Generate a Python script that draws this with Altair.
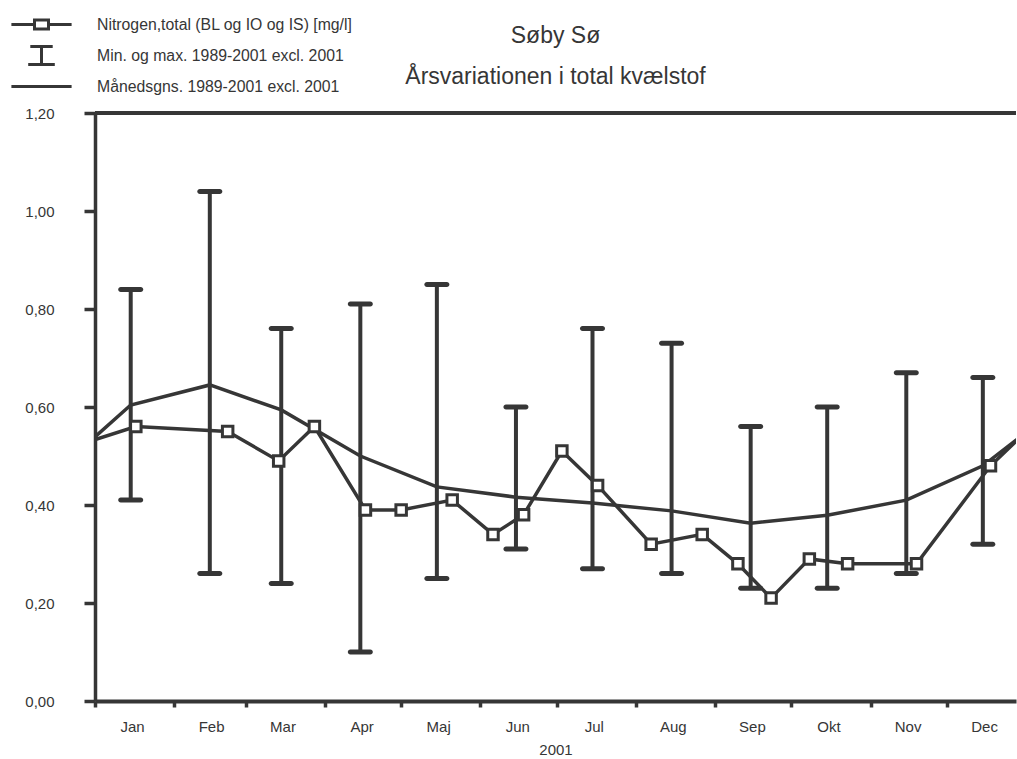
import altair as alt
import pandas as pd

INK = "#363636"
FONT = "Liberation Sans"

# Month labels on the time axis (Danish)
month_labels = ["Jan", "Feb", "Mar", "Apr", "Maj", "Jun",
                "Jul", "Aug", "Sep", "Okt", "Nov", "Dec"]

# Historic statistics 1989-2001 (excl. 2001), one value per month (mid-month)
month_mid = ["2001-01-15", "2001-02-15", "2001-03-15", "2001-04-15",
             "2001-05-15", "2001-06-15", "2001-07-15", "2001-08-15",
             "2001-09-15", "2001-10-15", "2001-11-15", "2001-12-15"]
hist_min = [0.41, 0.26, 0.24, 0.10, 0.25, 0.31, 0.27, 0.26, 0.23, 0.23, 0.26, 0.32]
hist_max = [0.84, 1.04, 0.76, 0.81, 0.85, 0.60, 0.76, 0.73, 0.56, 0.60, 0.67, 0.66]
hist_mean = [0.604, 0.645, 0.594, 0.500, 0.437, 0.416, 0.404, 0.388,
             0.363, 0.379, 0.410, 0.480]
# neighbouring months outside the year, so the curve runs to both edges
mean_edge_dates = ["2000-12-15", "2002-01-15"]
mean_edge_vals = [0.46, 0.604]

# Total nitrogen samples 2001 [mg/l]
sample_dates = ["2001-01-17", "2001-02-22", "2001-03-14", "2001-03-28",
                "2001-04-17", "2001-05-01", "2001-05-21", "2001-06-06",
                "2001-06-18", "2001-07-03", "2001-07-17", "2001-08-07",
                "2001-08-27", "2001-09-10", "2001-09-23", "2001-10-08",
                "2001-10-23", "2001-11-19", "2001-12-18"]
sample_vals = [0.56, 0.55, 0.49, 0.56, 0.39, 0.39, 0.41, 0.34, 0.38, 0.51,
               0.44, 0.32, 0.34, 0.28, 0.21, 0.29, 0.28, 0.28, 0.48]
sample_edge_dates = ["2000-12-18", "2002-01-17"]
sample_edge_vals = [0.51, 0.63]

y_ticks = [0.0, 0.2, 0.4, 0.6, 0.8, 1.0, 1.2]

legend_labels = ["Nitrogen,total (BL og IO og IS) [mg/l]",
                 "Min. og max. 1989-2001 excl. 2001",
                 "Månedsgns. 1989-2001 excl. 2001"]
# key symbols in unit space; the leading moves give every entry the same height
legend_shapes = [
    "M0,-0.66M0,0.66M-2.15,0H-0.5M0.5,0H2.15M-0.5,-0.33H0.5V0.33H-0.5Z",
    "M0,-0.66M0,0.66M-0.8,-0.64H0.8M0,-0.64V0.64M-0.95,0.64H0.95",
    "M0,-0.66M0,0.66M-2.15,0H2.15",
]

# ---- tables -------------------------------------------------------------
hist = pd.DataFrame({"date": month_mid, "lo": hist_min, "hi": hist_max})
caps = pd.DataFrame({"date": month_mid * 2, "value": hist_min + hist_max})
mean = pd.DataFrame({
    "date": [mean_edge_dates[0]] + month_mid + [mean_edge_dates[1]],
    "value": [mean_edge_vals[0]] + hist_mean + [mean_edge_vals[1]],
})
samples = pd.DataFrame({"date": sample_dates, "value": sample_vals})
sample_line = pd.DataFrame({
    "date": [sample_edge_dates[0]] + sample_dates + [sample_edge_dates[1]],
    "value": [sample_edge_vals[0]] + sample_vals + [sample_edge_vals[1]],
})
legend_df = pd.DataFrame({"serie": legend_labels})

# ---- scales and axes ----------------------------------------------------
month_starts = [alt.DateTime(year=2001, month=m, date=1, utc=True) for m in range(1, 13)]
names_js = "[" + ",".join("'%s'" % m for m in month_labels) + "]"

x_scale = alt.Scale(type="utc", domain=[
    alt.DateTime(year=2001, month=1, date=1, utc=True),
    alt.DateTime(year=2001, month=12, date=28, utc=True),
])
x_axis = alt.Axis(
    values=month_starts,
    labelExpr=names_js + "[utcmonth(datum.value)]",
    labelOffset=37, labelOverlap=False, labelFlush=False,
    labelFont=FONT, labelFontSize=15, labelColor=INK, labelPadding=12,
    tickSize=6, tickWidth=3.5, tickColor=INK,
    domainColor=INK, domainWidth=4, grid=False,
    title="2001", titleFont=FONT, titleFontSize=15, titleFontWeight="normal",
    titleColor=INK, titlePadding=8,
)
y_scale = alt.Scale(domain=[0, 1.2], nice=False, zero=True)
y_axis = alt.Axis(
    values=y_ticks,
    labelExpr="replace(format(datum.value, '.2f'), '.', ',')",
    labelFont=FONT, labelFontSize=15, labelColor=INK, labelPadding=30,
    tickSize=11, tickWidth=3.5, tickColor=INK,
    domainColor=INK, domainWidth=3.5, grid=False, title=None,
)

X = alt.X("date:T", scale=x_scale, axis=x_axis)
Y = alt.Y("value:Q", scale=y_scale, axis=y_axis)

# ---- layers -------------------------------------------------------------
bars = alt.Chart(hist).mark_rule(color=INK, strokeWidth=4).encode(
    x=alt.X("date:T"), y=alt.Y("lo:Q"), y2="hi:Q")

bar_caps = alt.Chart(caps).mark_tick(
    orient="horizontal", color=INK, size=25, thickness=5, cornerRadius=2.5,
    opacity=1,
).encode(x=alt.X("date:T"), y=alt.Y("value:Q"))

mean_line = alt.Chart(mean).mark_line(
    color=INK, strokeWidth=3.5, clip=True).encode(x=X, y=Y)

sample_path = alt.Chart(sample_line).mark_line(
    color=INK, strokeWidth=3.5, clip=True).encode(x=alt.X("date:T"), y=alt.Y("value:Q"))

sample_pts = alt.Chart(samples).mark_point(
    shape="square", size=110, fill="white", fillOpacity=1, stroke=INK,
    strokeWidth=3, opacity=1,
).encode(x=alt.X("date:T"), y=alt.Y("value:Q"))

top_frame = alt.Chart(legend_df).mark_rule(color=INK, strokeWidth=4).encode(
    y=alt.datum(1.2))

# carries the series key only; its own points are fully transparent
legend_layer = alt.Chart(legend_df).mark_point(
    color=INK, filled=False, strokeWidth=3, opacity=0,
).encode(
    shape=alt.Shape("serie:N", scale=alt.Scale(domain=legend_labels, range=legend_shapes),
                    legend=alt.Legend(
                        title=None, orient="none", legendX=-69, legendY=-104,
                        direction="vertical", padding=0, rowPadding=-11,
                        symbolSize=784, symbolStrokeWidth=3, symbolStrokeColor=INK,
                        symbolOpacity=1,
                        labelFont=FONT, labelFontSize=15.8, labelColor=INK,
                        labelOffset=40, labelLimit=0,
                    ))
)

chart = alt.layer(
    bars, bar_caps, mean_line, sample_path, sample_pts, top_frame, legend_layer
).properties(
    width=921, height=588,
    padding={"left": 95, "top": 113, "right": 1, "bottom": 58},
    autosize=alt.AutoSizeParams(type="none"),
    background="white",
    title=alt.TitleParams(
        text="Søby Sø", subtitle="Årsvariationen i total kvælstof",
        font=FONT, fontSize=23, fontWeight="normal", color=INK,
        subtitleFont=FONT, subtitleFontSize=23, subtitleColor=INK,
        subtitlePadding=18, anchor="middle", offset=-80,
    ),
).configure_view(stroke=None)

chart.save("out.html", embed_options={"renderer": "svg", "actions": False})
